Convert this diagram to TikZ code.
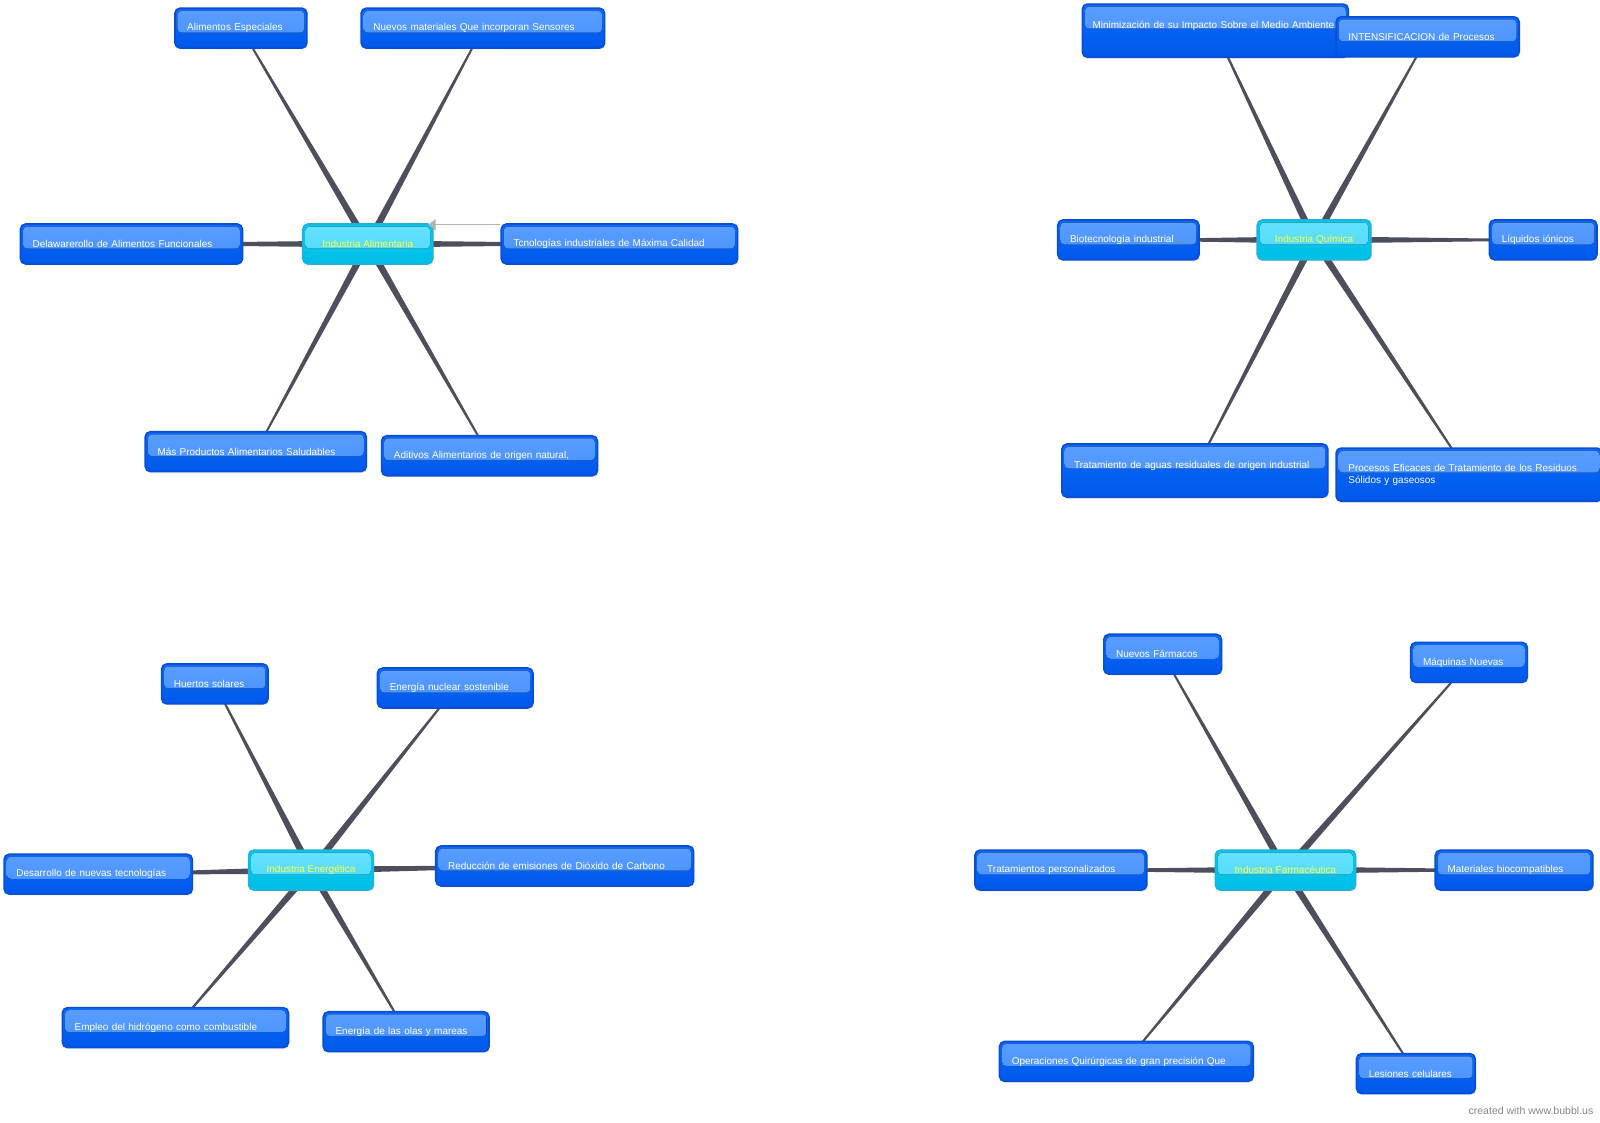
\documentclass[tikz,border=0pt]{standalone}
\usepackage{fontspec}
\setmainfont{Liberation Sans}
\usetikzlibrary{calc,backgrounds,arrows.meta,shadows}

\definecolor{leafbodytop}{HTML}{0A6BFF}
\definecolor{leafbodybot}{HTML}{0058E8}
\definecolor{leaftop}{HTML}{5A9DFF}
\definecolor{leaftopbot}{HTML}{4590FF}
\definecolor{leafedge}{HTML}{0A4ED6}
\definecolor{hubbodytop}{HTML}{00CCF0}
\definecolor{hubbodybot}{HTML}{00BEE6}
\definecolor{hubtop}{HTML}{66E2FF}
\definecolor{hubtopbot}{HTML}{4AD8FB}
\definecolor{hubedge}{HTML}{1FB2DC}
\definecolor{hubtext}{HTML}{FFFF3C}
\definecolor{spokecol}{HTML}{4D505C}

\tikzset{
  box/.style={rounded corners=5pt, line width=1.6pt, minimum height=39pt,
    font=\fontsize{9.75pt}{12pt}\selectfont,
    drop shadow={opacity=0.12, shadow xshift=1pt, shadow yshift=-1.5pt}},
  leaf/.style={box, draw=leafedge, top color=leafbodytop, bottom color=leafbodybot,
    text=white, align=left, inner xsep=12pt, text width=#1,
    path picture={\fill[top color=leaftop, bottom color=leaftopbot, rounded corners=4pt]
      ([xshift=2.5pt,yshift=-2.5pt]path picture bounding box.north west)
      rectangle ([xshift=-2.5pt,yshift=-24pt]path picture bounding box.north east);}},
  hub/.style={box, draw=hubedge, top color=hubbodytop, bottom color=hubbodybot,
    text=hubtext, minimum width=#1,
    path picture={\fill[top color=hubtop, bottom color=hubtopbot, rounded corners=4pt]
      ([xshift=2.5pt,yshift=-2.5pt]path picture bounding box.north west)
      rectangle ([xshift=-2.5pt,yshift=-24pt]path picture bounding box.north east);}},
  spoke/.style={fill=spokecol},
  relarrow/.style={draw=gray!60, line width=1pt, -{Triangle[length=7pt,width=11pt]}}
}
\newcommand{\spoke}[2]{\fill[spoke] ($(#1)!3.5pt!90:(#2)$) -- ($(#2)!0.7pt!-90:(#1)$)
  -- ($(#2)!0.7pt!90:(#1)$) -- ($(#1)!3.5pt!-90:(#2)$) -- cycle;}

\begin{document}
\begin{tikzpicture}[x=1pt,y=-1pt]
\useasboundingbox (0,0) rectangle (1564,1097);

% Industria Alimentaria
\node[hub=127pt] (al) at (359.5,238.5) {Industria Alimentaria};
\node[leaf=105pt] (ae) at (235.5,27.5) {Alimentos Especiales};
\node[leaf=214pt] (nm) at (472,27.5) {Nuevos materiales Que incorporan Sensores};
\node[leaf=193pt] (df) at (128.5,238.5) {Delawarerollo de Alimentos Funcionales};
\node[leaf=207pt] (tc) at (605.5,238.5) {Tcnologías industriales de Máxima Calidad};
\node[leaf=192pt] (mp) at (250,441.5) {Más Productos Alimentarios Saludables};
\node[leaf=187pt] (aa) at (478.5,445.5) {Aditivos Alimentarios de origen natural,};
\draw[relarrow] ([yshift=-1.5pt]tc.north west) -- ([xshift=-5pt,yshift=-1.5pt]al.north east);

% Industria Quimica
\node[hub=111pt] (qu) at (1284.5,234.5) {Industria Química};
\node[leaf=240pt, inner xsep=10pt, minimum height=52pt] (mi) at (1188,30) {Minimización de su Impacto Sobre el Medio Ambiente\\~};
\node[leaf=155pt] (is) at (1395.5,36) {INTENSIFICACION de Procesos};
\node[leaf=114pt] (bi) at (1103,234.5) {Biotecnología industrial};
\node[leaf=81pt] (li) at (1508.5,234.5) {Líquidos iónicos};
\node[leaf=236pt, minimum height=52pt] (ta) at (1168,460) {Tratamiento de aguas residuales de origen industrial\\~};
\node[leaf=236pt, minimum height=52pt] (pe) at (1436,464) {Procesos Eficaces de Tratamiento de los Residuos\\Sólidos y gaseosos};

% Industria Energetica
\node[hub=122pt] (ene) at (304,850.5) {Industria Energética};
\node[leaf=80pt] (hs) at (210,668.5) {Huertos solares};
\node[leaf=128pt] (ns) at (445,672.5) {Energía nuclear sostenible};
\node[leaf=160pt] (dn) at (96,854.5) {Desarrollo de nuevas tecnologías};
\node[leaf=228pt] (re) at (552,846.5) {Reducción de emisiones de Dióxido de Carbono};
\node[leaf=197pt] (eh) at (171.5,1004.5) {Empleo del hidrógeno como combustible};
\node[leaf=138pt] (eo) at (397,1008.5) {Energía de las olas y mareas};

% Industria Farmaceutica
\node[hub=137pt] (fa) at (1256.5,850.5) {Industria Farmacéutica};
\node[leaf=91pt] (nf) at (1136.5,639.5) {Nuevos Fármacos};
\node[leaf=90pt] (mn) at (1436,647.5) {Máquinas Nuevas};
\node[leaf=144pt] (tp) at (1037,850.5) {Tratamientos personalizados};
\node[leaf=130pt] (mb) at (1480,850.5) {Materiales biocompatibles};
\node[leaf=224pt] (oq) at (1101,1037.5) {Operaciones Quirúrgicas de gran precisión Que};
\node[leaf=92pt] (lc) at (1384,1049.5) {Lesiones celulares};

\begin{pgfonlayer}{background}
\foreach \l in {ae,nm,df,tc,mp,aa} \spoke{al}{\l};
\foreach \l in {mi,is,bi,li,ta,pe} \spoke{qu}{\l};
\foreach \l in {hs,ns,dn,re,eh,eo} \spoke{ene}{\l};
\foreach \l in {nf,mn,tp,mb,oq,lc} \spoke{fa}{\l};
\end{pgfonlayer}

\node[anchor=east, text=gray!95, font=\fontsize{10.3pt}{12pt}\selectfont] (credit) at (1561,1086) {created with www.bubbl.us};
\end{tikzpicture}
\end{document}
